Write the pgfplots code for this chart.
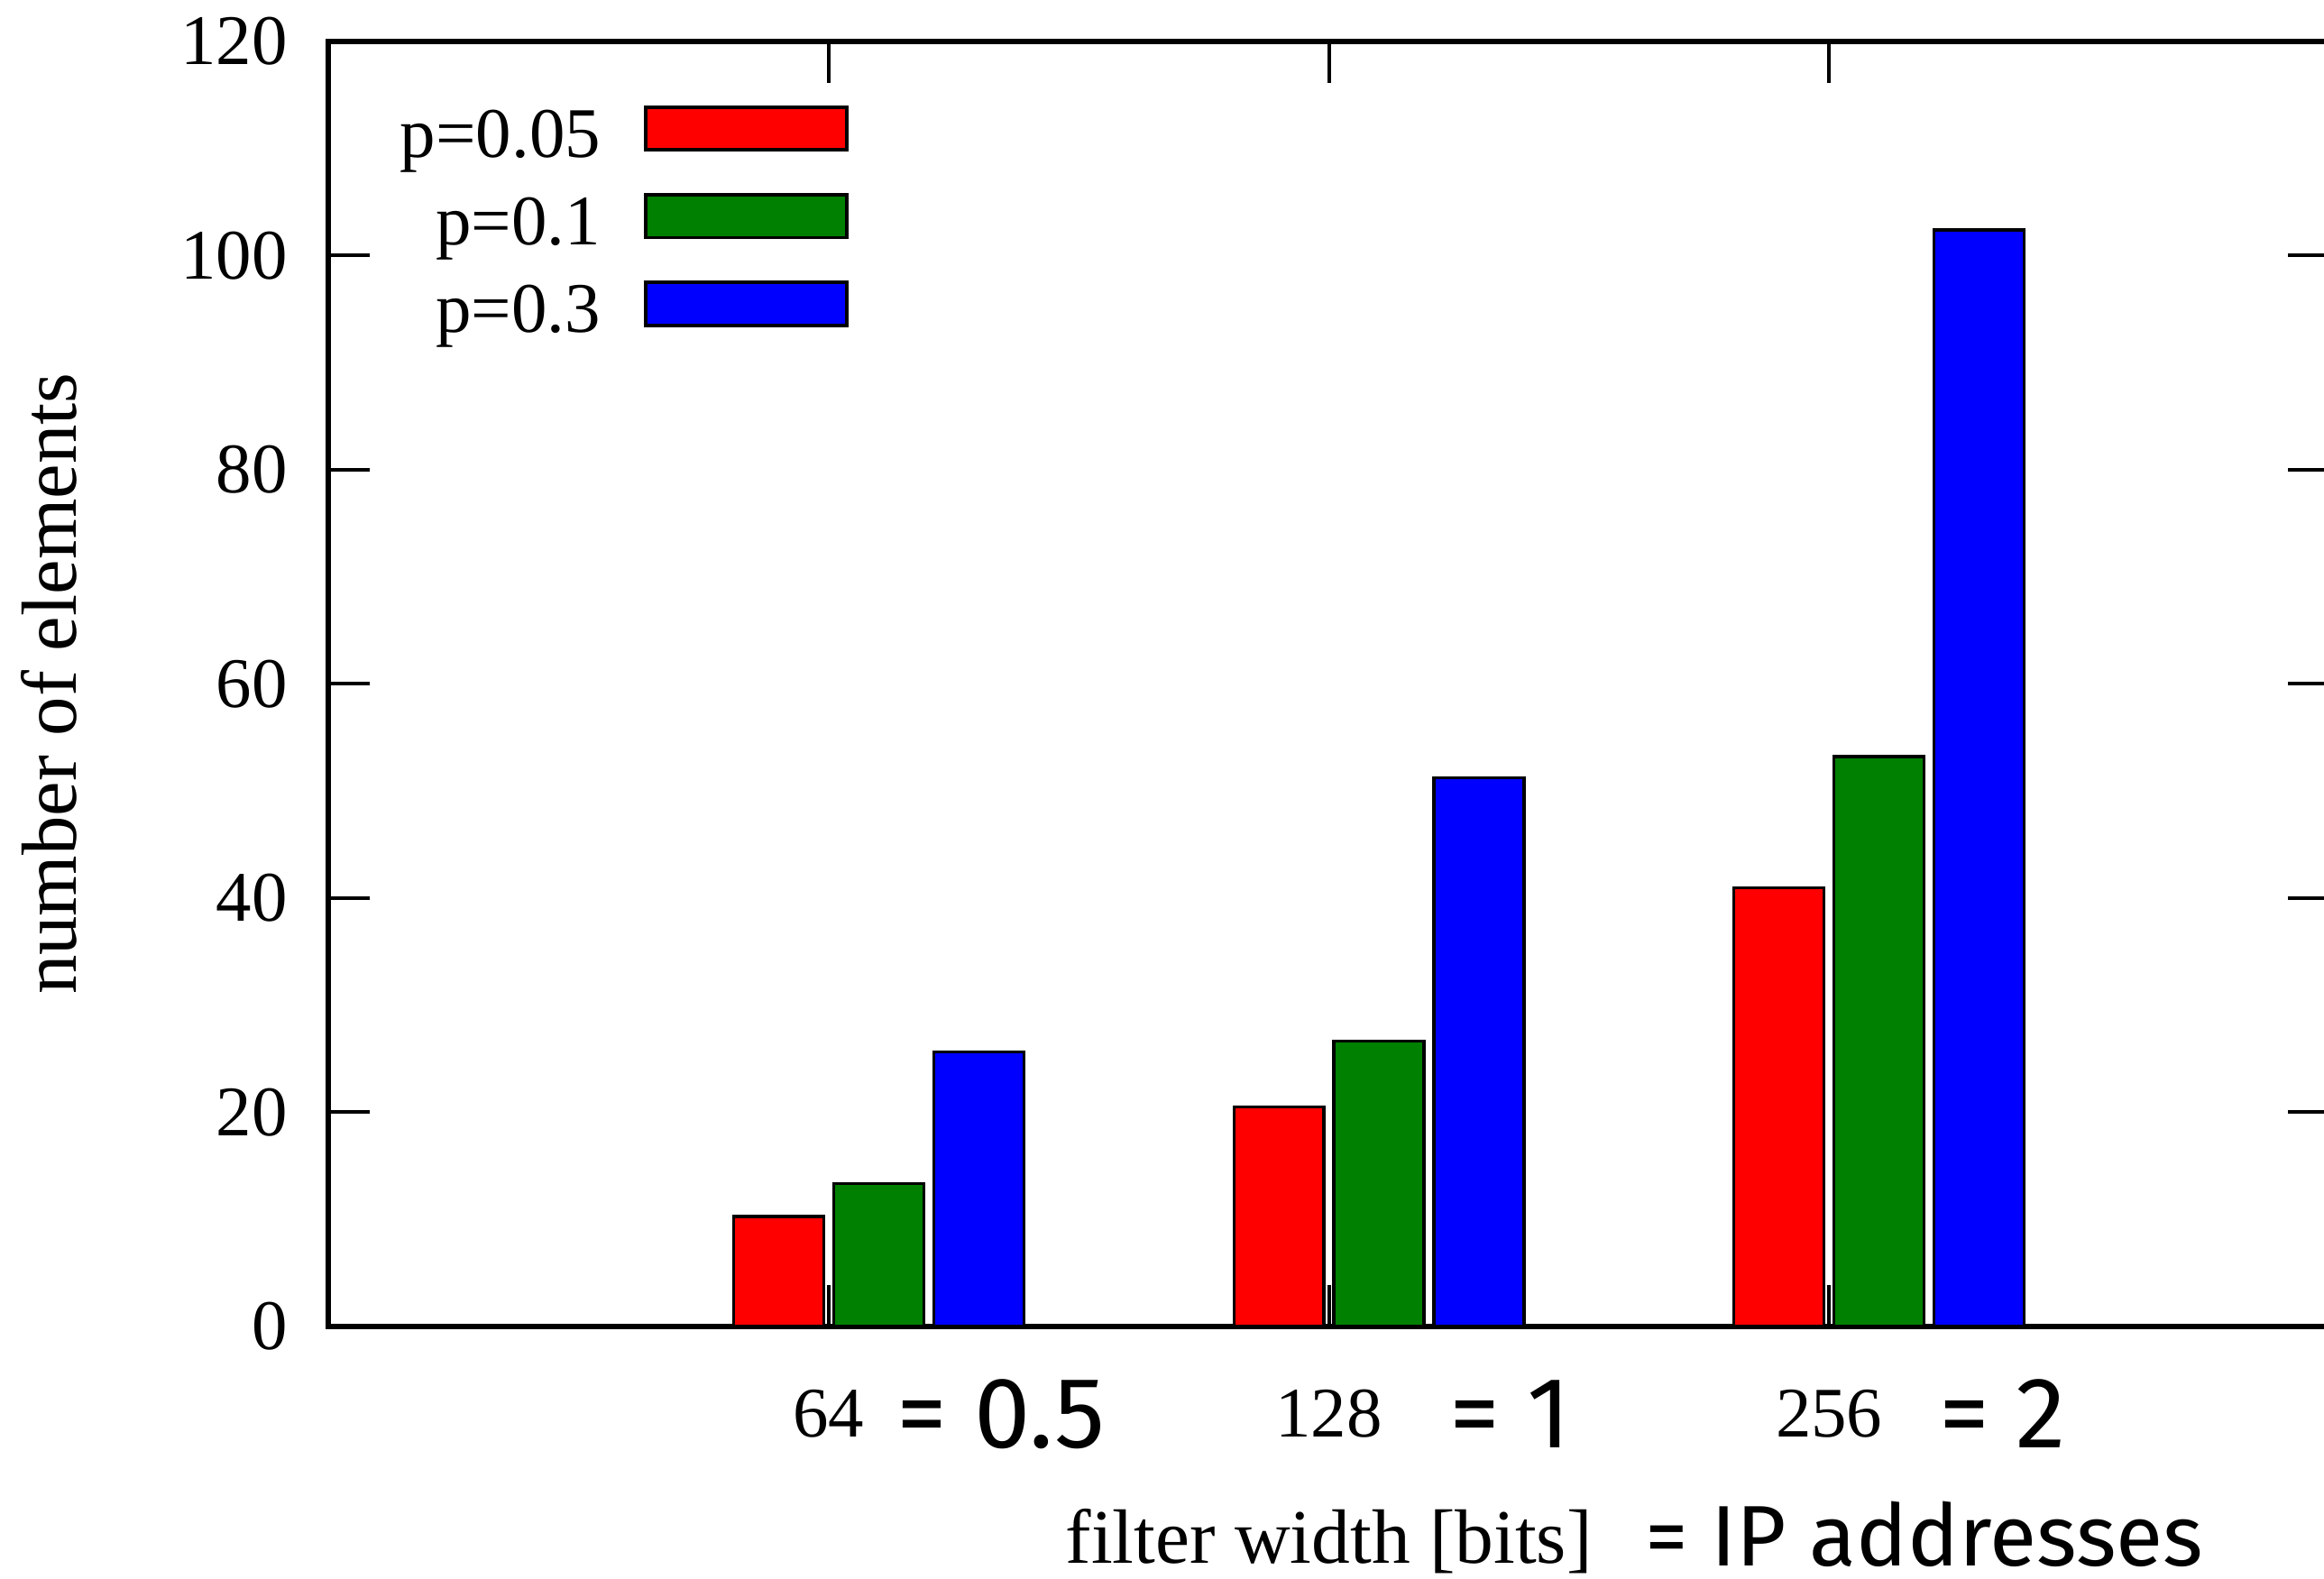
\documentclass[border=0pt]{standalone}
\usepackage{fontspec}
\setmainfont{Liberation Serif}
\newfontfamily\annot{Fira Sans}
\usepackage{pgfplots}
\pgfplotsset{compat=1.18}

\newcommand{\tfont}{\fontsize{12}{14}\selectfont}

\begin{document}
\begin{tikzpicture}
  \begin{axis}[
    at={(0,0)}, anchor=south west,
    scale only axis,
    width=337.5pt, height=216.7pt,
    xmin=0, xmax=4,
    ymin=0, ymax=120,
    xtick={1,2,3},
    xticklabels={64,128,256},
    ytick={0,20,...,120},
    /pgf/number format/assume math mode=true,
    tick align=inside,
    major tick length=7pt,
    tick style={black, line width=0.6pt},
    axis line style={line width=0.9pt},
    yticklabel style={font=\tfont, inner sep=0pt, xshift=-6.75pt},
    xticklabel style={font=\tfont, inner sep=0pt, yshift=-10.5pt},
    ylabel={number of elements},
    ylabel style={font=\fontsize{13.2}{15}\selectfont, at={(axis description cs:-0.1395,0.5)}, anchor=center},
    xlabel={filter width [bits]},
    xlabel style={font=\fontsize{13}{15}\selectfont, at={(axis description cs:0.5,0)}, anchor=base, inner sep=0pt, yshift=-40pt},
    legend plot pos=right,
    legend cell align=right,
    legend style={
      draw=none, fill=none, font=\tfont,
      at={(axis description cs:0.26,0.9505)}, anchor=north east,
      inner sep=0pt, outer sep=0pt, row sep=0pt, column sep=7.25pt,
      nodes={inner sep=0pt, text height=8.5pt, text depth=6pt}
    },
  ]

  % p = 0.05 (red)
  \addplot[ybar, bar width=0.18, bar shift=0pt, fill=red, draw=black, line width=0.5pt,
    legend image code/.code={\draw[fill=red, draw=black, line width=0.6pt] (0pt,0pt) rectangle (34pt,7.25pt);}]
    coordinates {(0.9,10.24) (1.9,20.48) (2.9,40.96)};

  % p = 0.1 (green)
  \addplot[ybar, bar width=0.18, bar shift=0pt, fill={rgb,255:red,0;green,128;blue,0}, draw=black, line width=0.5pt,
    legend image code/.code={\draw[fill={rgb,255:red,0;green,128;blue,0}, draw=black, line width=0.6pt] (0pt,0pt) rectangle (34pt,7.25pt);}]
    coordinates {(1.1,13.3) (2.1,26.6) (3.1,53.2)};

  % p = 0.3 (blue)
  \addplot[ybar, bar width=0.18, bar shift=0pt, fill=blue, draw=black, line width=0.5pt,
    legend image code/.code={\draw[fill=blue, draw=black, line width=0.6pt] (0pt,0pt) rectangle (34pt,7.25pt);}]
    coordinates {(1.3,25.6) (2.3,51.2) (3.3,102.4)};

  \legend{p=0.05, p=0.1, p=0.3}
  \end{axis}

  % sans annotations under the tick labels
  \node[anchor=base west, inner sep=0pt] at (95.75pt,-20.5pt) {\annot\fontsize{17}{20}\selectfont = 0.5};
  \node[anchor=base west, inner sep=0pt] at (189pt,-20.5pt) {\annot\fontsize{17}{20}\selectfont = 1};
  \node[anchor=base west, inner sep=0pt] at (271.5pt,-20.5pt) {\annot\fontsize{17}{20}\selectfont = 2};
  \node[anchor=base west, inner sep=0pt] at (222pt,-40.5pt) {\annot\fontsize{14.5}{17}\selectfont = IP addresses};

  \pgfresetboundingbox
  \useasboundingbox (-55.4pt,-42.6pt) rectangle (336.6pt,223.7pt);
\end{tikzpicture}
\end{document}
